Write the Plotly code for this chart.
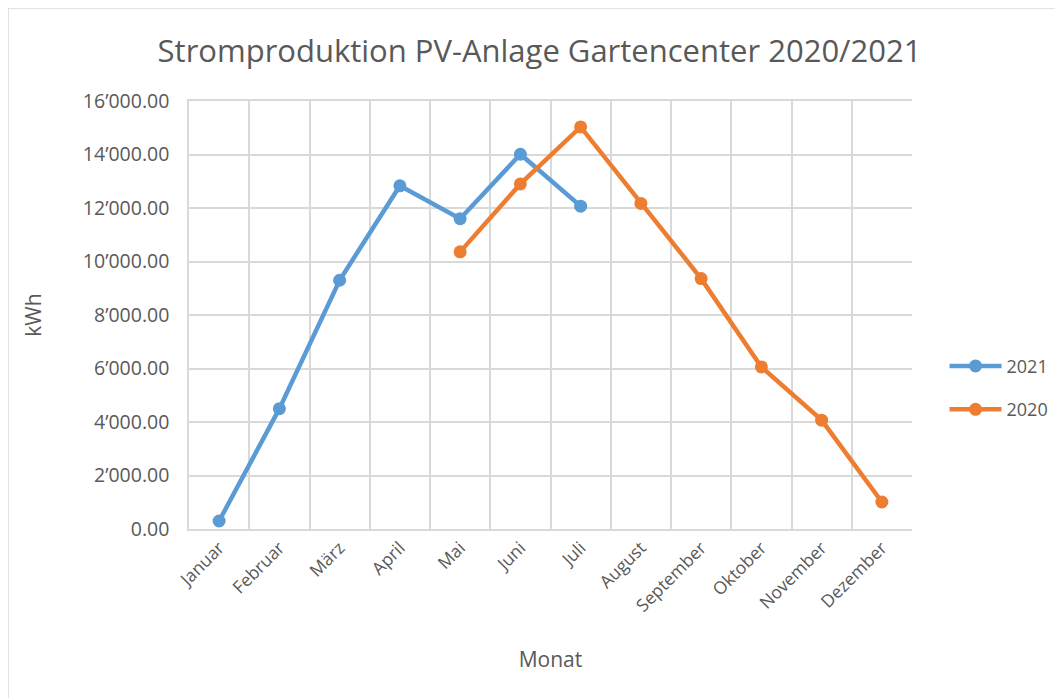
import plotly.graph_objects as go

months = ["Januar", "Februar", "März", "April", "Mai", "Juni", "Juli",
          "August", "September", "Oktober", "November", "Dezember"]
values_2021 = [300, 4500, 9300, 12830, 11600, 14010, 12070,
               None, None, None, None, None]
values_2020 = [None, None, None, None, 10360, 12900, 15030,
               12170, 9360, 6060, 4070, 1010]

FONT = "Open Sans"
TXT = "#595959"
GRID = "#D9D9D9"

# page body adds an 8px offset; margins compensate so the plot area sits at 189..912 / 101..529
L, R, T, B = 181, 159, 93, 177
PW, PH = 1063 - L - R, 698 - T - B

fig = go.Figure()
fig.add_trace(go.Scatter(x=months, y=values_2021, name="2021", mode="lines+markers",
                         legendgroup="a",
                         line=dict(color="#5B9BD5", width=4.5),
                         marker=dict(size=13, color="#5B9BD5")))
fig.add_trace(go.Scatter(x=months, y=values_2020, name="2020", mode="lines+markers",
                         legendgroup="b",
                         line=dict(color="#ED7D31", width=4.5),
                         marker=dict(size=13, color="#ED7D31")))

fig.update_layout(
    width=1063, height=698,
    margin=dict(l=L, r=R, t=T, b=B),
    paper_bgcolor="white", plot_bgcolor="white",
    separators=".’",
    font=dict(family=FONT, color=TXT, size=17),
    title=dict(text="Stromproduktion PV-Anlage Gartencenter 2020/2021",
               x=0.5, xref="container", xanchor="center", y=0.938, yref="container",
               yanchor="middle", font=dict(size=31, color=TXT, family=FONT)),
    showlegend=True,
    legend=dict(x=1.045, y=0.33, xanchor="left", yanchor="middle",
                font=dict(size=18, color=TXT), traceorder="grouped",
                tracegroupgap=17, itemwidth=52),
    xaxis=dict(type="category", range=[-0.5, 11.5], tickangle=-45, showgrid=True,
               gridcolor=GRID, gridwidth=1.5, tickson="boundaries", ticks="",
               showline=True, linecolor=GRID, linewidth=1.5, mirror=True,
               automargin=False, tickfont=dict(size=17.5, color=TXT),
               title=dict(text="Monat", font=dict(size=21, color=TXT), standoff=37)),
    yaxis=dict(range=[0, 16000], dtick=2000, tickformat=",.2f", showgrid=True,
               gridcolor=GRID, gridwidth=1.5, zeroline=False, showline=True,
               linecolor=GRID, linewidth=1.5, ticks="", automargin=False,
               ticklabelstandoff=14,
               tickfont=dict(size=19.5, color=TXT),
               title=dict(text="kWh", font=dict(size=21, color=TXT), standoff=36)),
)

fig.add_shape(type="rect", xref="paper", yref="paper",
              x0=-L / PW, x1=1 + (R + 20) / PW, y0=-(B + 20) / PH, y1=1 + T / PH,
              line=dict(color="#D9D9D9", width=1.5), fillcolor="rgba(0,0,0,0)",
              layer="below")

fig.write_html("out.html")
